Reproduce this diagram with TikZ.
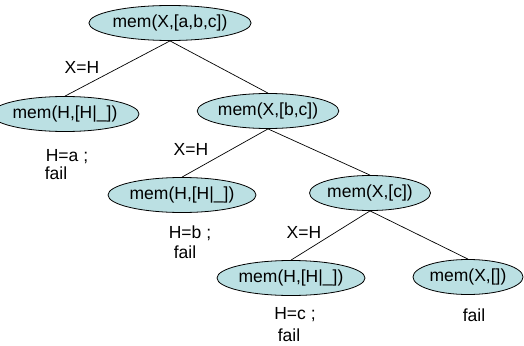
\documentclass[tikz,border=0pt]{standalone}
\usepackage{fontspec}
\setmainfont{Liberation Sans}
\usetikzlibrary{shapes.geometric}
\definecolor{goalfill}{RGB}{187,224,227}
\begin{document}
\begin{tikzpicture}[x=1pt,y=-1pt,
  goal/.style={ellipse, draw=black, line width=0.8pt, fill=goalfill, inner sep=0pt,
    minimum height=35pt, font=\fontsize{17.5}{18}\selectfont},
  lbl/.style={inner sep=0pt, font=\fontsize{17.5}{18}\selectfont},
  branch/.style={line width=0.7pt}]
\useasboundingbox (0,0) rectangle (524,345);
% goal nodes of the search tree
\node[goal, minimum width=125pt] (root) at (170,23) {mem(X,[a,b,c])};
\node[goal, minimum width=111pt] (l1) at (65,114) {mem(H,[H|\_])};
\node[goal, minimum width=116pt] (r1) at (268,111) {mem(X,[b,c])};
\node[goal, minimum width=109pt] (l2) at (182,195) {mem(H,[H|\_])};
\node[goal, minimum width=117pt] (r2) at (370,193) {mem(X,[c])};
\node[goal, minimum width=109pt] (l3) at (291,278) {mem(H,[H|\_])};
\node[goal, minimum width=110pt] (r3) at (468,277) {mem(X,[])};
% branches
\draw[branch] (root.south) -- (l1.north);
\draw[branch] (root.south) -- (r1.north);
\draw[branch] (r1.south) -- (l2.north);
\draw[branch] (r1.south) -- (r2.north);
\draw[branch] (r2.south) -- (l3.north);
\draw[branch] (r2.south) -- (r3.north);
% unifier labels
\node[lbl] (u1) at (82,67) {X=H};
\node[lbl] (u2) at (191,149) {X=H};
\node[lbl] (u3) at (304,232) {X=H};
% outcomes
\node[lbl] (a1) at (67,157) {H=a ;};
\node[lbl] (f1) at (56,173) {fail};
\node[lbl] (a2) at (190,233) {H=b ;};
\node[lbl] (f2) at (185,252) {fail};
\node[lbl] (a3) at (295,315) {H=c ;};
\node[lbl] (f3) at (289,335) {fail};
\node[lbl] (f4) at (474,315) {fail};
\end{tikzpicture}
\end{document}
